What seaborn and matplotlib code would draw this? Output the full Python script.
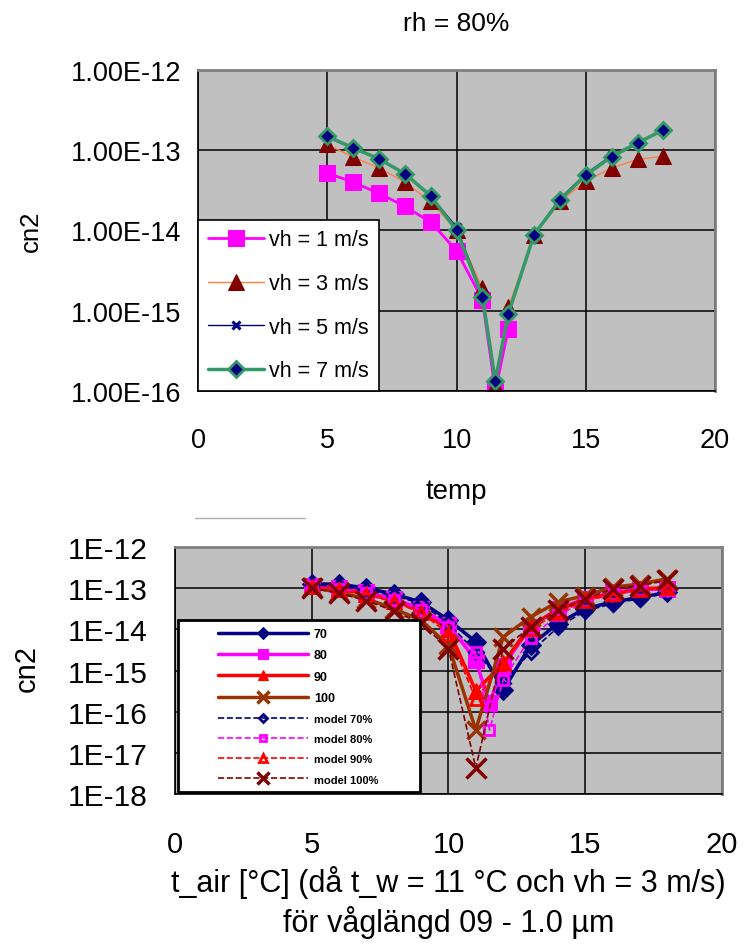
import matplotlib
matplotlib.use("Agg")
import matplotlib.pyplot as plt
from matplotlib.lines import Line2D
from matplotlib.legend_handler import HandlerLine2D
from matplotlib.ticker import NullLocator
import seaborn as sns

# ---- top chart: rh = 80 %, different wind speeds ----
temp_a = [5, 6, 7, 8, 9, 10, 11, 11.5, 12, 13, 14, 15, 16, 17, 18]
vh1 = [5.2e-14, 4.0e-14, 2.9e-14, 2.0e-14, 1.27e-14, 5.6e-15, 1.37e-15, 1.0e-16, 5.9e-16]
vh3 = [1.18e-13, 8.2e-14, 6.0e-14, 4.0e-14, 2.3e-14, 1.0e-14, 1.9e-15, 1.2e-16, 1.1e-15,
       8.7e-15, 2.3e-14, 4.1e-14, 6.0e-14, 7.7e-14, 8.4e-14]
vh5 = [1.45e-13, 1.05e-13, 7.8e-14, 5.1e-14, 2.7e-14, 1.1e-14, 1.6e-15, 1.3e-16, 9.5e-16,
       9.0e-15, 2.5e-14, 5.1e-14, 8.6e-14, 1.25e-13, 1.8e-13]
vh7 = [1.49e-13, 1.07e-13, 7.8e-14, 5.1e-14, 2.7e-14, 1.0e-14, 1.5e-15, 1.35e-16, 9.1e-16,
       8.9e-15, 2.4e-14, 4.9e-14, 8.3e-14, 1.23e-13, 1.8e-13]
top_yticks = [1e-16, 1e-15, 1e-14, 1e-13, 1e-12]
top_ylabels = ["1.00E-16", "1.00E-15", "1.00E-14", "1.00E-13", "1.00E-12"]

# ---- bottom chart: different rh, measured and model ----
temp_b = [5, 6, 7, 8, 9, 10, 11, 12, 13, 14, 15, 16, 17, 18]
temp_b80 = [5, 6, 7, 8, 9, 10, 11, 11.5, 12, 13, 14, 15, 16, 17, 18]
rh70 = [1.26e-13, 1.26e-13, 1.0e-13, 7.2e-14, 4.6e-14, 1.7e-14, 5.0e-15, 3.3e-16,
        4.1e-15, 1.38e-14, 3.2e-14, 4.6e-14, 6.0e-14, 7.9e-14]
rh80 = [1.15e-13, 1.0e-13, 7.9e-14, 5.5e-14, 3.2e-14, 1.26e-14, 1.8e-15, 1.6e-16, 1.26e-15,
        1.15e-14, 3.2e-14, 5.5e-14, 7.9e-14, 9.5e-14, 9.5e-14]
rh90 = [1.12e-13, 9.3e-14, 7.4e-14, 5.0e-14, 2.8e-14, 1.0e-14, 3.2e-16, 1.5e-15,
        1.26e-14, 2.9e-14, 5.5e-14, 7.2e-14, 9.5e-14, 1.05e-13]
rh100 = [1.05e-13, 7.9e-14, 5.5e-14, 3.2e-14, 1.66e-14, 4.1e-15, 3.6e-17, 6.5e-15,
         2.0e-14, 4.6e-14, 6.6e-14, 1.05e-13, 1.26e-13, 1.7e-13]
model70 = [1.2e-13, 1.12e-13, 8.9e-14, 6.6e-14, 4.2e-14, 1.4e-14, 2.8e-15, 5.0e-16,
           2.8e-15, 1.12e-14, 2.8e-14, 4.2e-14, 5.6e-14, 7.6e-14]
model80 = [1.12e-13, 9.5e-14, 7.6e-14, 5.2e-14, 3.0e-14, 1.12e-14, 2.8e-15, 3.6e-17, 5.9e-16,
           6.3e-15, 2.2e-14, 4.8e-14, 7.1e-14, 8.9e-14, 8.9e-14]
model90 = [1.07e-13, 8.9e-14, 6.9e-14, 4.7e-14, 2.5e-14, 7.9e-15, 2.0e-16, 1.5e-15,
           1.0e-14, 2.5e-14, 5.0e-14, 7.1e-14, 9.1e-14, 1.0e-13]
model100 = [1.0e-13, 7.6e-14, 5.0e-14, 2.8e-14, 1.4e-14, 3.4e-15, 4.3e-18, 3.4e-15,
            1.15e-14, 2.9e-14, 5.5e-14, 9.5e-14, 1.15e-13, 1.55e-13]
bot_yticks = [1e-18, 1e-17, 1e-16, 1e-15, 1e-14, 1e-13, 1e-12]
bot_ylabels = ["1E-18", "1E-17", "1E-16", "1E-15", "1E-14", "1E-13", "1E-12"]
xticks = [0, 5, 10, 15, 20]

sns.set_style("white")
plt.rcParams['font.family'] = ['Liberation Sans', 'DejaVu Sans']
plt.rcParams.update({'text.color': 'black', 'axes.labelcolor': 'black',
                     'xtick.color': 'black', 'ytick.color': 'black'})

fig = plt.figure(figsize=(7.49, 9.45), dpi=100)


def style_axes(ax):
    ax.set_facecolor('#c0c0c0')
    ax.set_yscale('log')
    ax.grid(True, which='major', color='black', linewidth=1.1)
    ax.set_axisbelow(True)
    for s in ['left', 'bottom']:
        ax.spines[s].set_color('black')
        ax.spines[s].set_linewidth(1.2)
    for s in ['top', 'right']:
        ax.spines[s].set_color('#808080')
        ax.spines[s].set_linewidth(2)
    ax.set_xlim(0, 20)
    ax.set_xticks(xticks)


# ---------------- top chart ----------------
ax1 = fig.add_axes([0.2644, 0.5852, 0.6903, 0.3397])
style_axes(ax1)
sns.lineplot(x=temp_a[:len(vh1)], y=vh1, ax=ax1, color='#ff00ff', linewidth=2,
             marker='s', markersize=11, markeredgecolor='#ff00ff', label='vh = 1 m/s')
sns.lineplot(x=temp_a, y=vh3, ax=ax1, color='#ff8040', linewidth=1,
             marker='^', markersize=11, markerfacecolor='#800000',
             markeredgecolor='#800000', label='vh = 3 m/s')
sns.lineplot(x=temp_a, y=vh5, ax=ax1, color='#000080', linewidth=1,
             marker='x', markersize=6, markeredgewidth=2.2, markeredgecolor='#000080',
             label='vh = 5 m/s')
sns.lineplot(x=temp_a, y=vh7, ax=ax1, color='#339966', linewidth=2.5,
             marker='D', markersize=8, markerfacecolor='#000080',
             markeredgecolor='#339966', markeredgewidth=2, label='vh = 7 m/s')
ax1.set_ylim(1e-16, 1e-12)
ax1.set_yticks(top_yticks)
ax1.set_yticklabels(top_ylabels)
ax1.yaxis.set_minor_locator(NullLocator())
ax1.set_xticklabels([str(t) for t in xticks])
ax1.tick_params(axis='y', direction='out', length=7, width=1, color='black',
                labelsize=19.5, pad=5)
ax1.tick_params(axis='x', direction='out', length=7, width=1, color='black',
                labelsize=19.5, pad=19)
ax1.set_title('rh = 80%', fontsize=19, pad=28.5)
ax1.set_xlabel('temp', fontsize=20, labelpad=18)
ax1.set_ylabel('cn2', fontsize=18.5)
ax1.yaxis.set_label_coords(-0.30, 0.5)
leg1 = ax1.legend(loc='lower left', bbox_to_anchor=(0, 0), borderaxespad=0,
                  frameon=True, fancybox=False, edgecolor='black', framealpha=1,
                  fontsize=15.5, handlelength=2.6, labelspacing=1.05, borderpad=0.45,
                  handletextpad=0.25)
leg1.get_frame().set_linewidth(1.2)

# decorative empty title box line between charts
fig.add_artist(Line2D([0.26, 0.407], [0.4508, 0.4508], color='#b0b0b0', linewidth=1))

# ---------------- bottom chart ----------------
ax2 = fig.add_axes([0.2336, 0.1587, 0.7303, 0.2614])
style_axes(ax2)
sns.lineplot(x=temp_b, y=rh70, ax=ax2, color='#000080', linewidth=2.5,
             marker='D', markersize=10, markeredgecolor='#000080', label='70')
sns.lineplot(x=temp_b80, y=rh80, ax=ax2, color='#ff00ff', linewidth=2.5,
             marker='s', markersize=12, markeredgecolor='#ff00ff', label='80')
sns.lineplot(x=temp_b, y=rh90, ax=ax2, color='#ff0000', linewidth=2.5,
             marker='^', markersize=12, markeredgecolor='#ff0000', label='90')
sns.lineplot(x=temp_b, y=rh100, ax=ax2, color='#993300', linewidth=2.5,
             marker='x', markersize=13, markeredgewidth=2.5, markeredgecolor='#993300',
             label='100')
sns.lineplot(x=temp_b, y=model70, ax=ax2, color='#000080', linewidth=1.2, linestyle='--',
             marker='D', markersize=7, markerfacecolor='none', markeredgecolor='#000080',
             markeredgewidth=2, label='model 70%')
sns.lineplot(x=temp_b80, y=model80, ax=ax2, color='#ff00ff', linewidth=1.2, linestyle='--',
             marker='s', markersize=7, markerfacecolor='none', markeredgecolor='#ff00ff',
             markeredgewidth=2, label='model 80%')
sns.lineplot(x=temp_b, y=model90, ax=ax2, color='#ff0000', linewidth=1.2, linestyle='--',
             marker='^', markersize=8, markerfacecolor='none', markeredgecolor='#ff0000',
             markeredgewidth=2, label='model 90%')
sns.lineplot(x=temp_b, y=model100, ax=ax2, color='#800000', linewidth=1.2, linestyle='--',
             marker='x', markersize=14, markeredgewidth=2.5, markeredgecolor='#800000',
             label='model 100%')
ax2.set_ylim(1e-18, 1e-12)
ax2.set_yticks(bot_yticks)
ax2.set_yticklabels(bot_ylabels)
ax2.yaxis.set_minor_locator(NullLocator())
ax2.set_xticklabels([str(t) for t in xticks])
ax2.tick_params(axis='y', direction='out', length=7, width=1, color='black',
                labelsize=21.5, pad=13)
ax2.tick_params(axis='x', direction='out', length=7, width=1, color='black',
                labelsize=21, pad=19)
ax2.set_xlabel('t_air [°C] (då t_w = 11 °C och vh = 3 m/s)\nför våglängd 09 - 1.0 µm',
               fontsize=22, labelpad=5, linespacing=1.25)
ax2.set_ylabel('cn2', fontsize=21)
ax2.yaxis.set_label_coords(-0.245, 0.514)
leg2 = ax2.legend(loc='lower left', bbox_to_anchor=(0.0055, 0.008, 0.4424, 0.68),
                  mode='expand', borderaxespad=0,
                  frameon=True, fancybox=False, edgecolor='black', framealpha=1,
                  prop={'size': 9, 'weight': 'bold'}, handlelength=9.8,
                  handler_map={Line2D: HandlerLine2D(xpad=2.6)},
                  labelspacing=0.75, borderpad=0.6, handletextpad=0.48, markerscale=0.65)
leg2.get_frame().set_linewidth(2)
for t in leg2.get_texts()[4:]:
    t.set_fontsize(8)

fig.savefig('out.png', dpi=100)
